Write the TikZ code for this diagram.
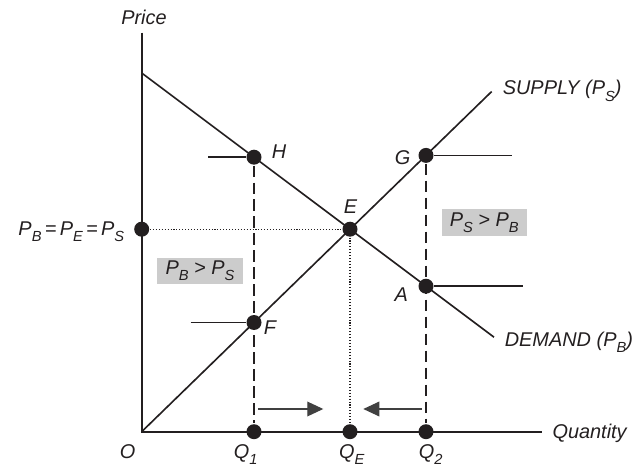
\documentclass[tikz,border=0pt]{standalone}
\usepackage{fontspec}
\setmainfont{Liberation Sans}
\usetikzlibrary{arrows.meta, positioning}
\definecolor{cink}{HTML}{231F20}
\definecolor{cshade}{HTML}{CCCCCC}
\definecolor{carrow}{HTML}{404040}
\newcommand{\lowr}[1]{\raisebox{-0.32em}{\fontsize{12.5}{14}\selectfont #1}}
\tikzset{
  every picture/.style={line width=1.4pt},
  curve/.style={draw=cink, line width=1.4pt},
  dot/.style={circle, fill=cink, inner sep=0pt, minimum size=0.45cm},
  lbl/.style={font=\fontsize{17}{20}\selectfont\itshape, text=cink, inner sep=0pt},
  guide/.style={draw=cink, line width=1.1pt, dash pattern=on 10pt off 4.5pt},
  dots/.style={draw=cink, line width=0.9pt, dash pattern=on 0.9pt off 1.6pt},
  shade/.style={lbl, fill=cshade, minimum width=2.55cm, minimum height=0.78cm},
  push/.style={-{Triangle[length=0.48cm, width=0.44cm]}, draw=carrow, line width=1.1pt},
}

\begin{document}
\begin{tikzpicture}[x=0.03cm, y=0.03cm]
  \useasboundingbox (-141.7,-36.3) rectangle (499.3,431.7);

  % axes and the two curves
  \coordinate (o)    at (0,0);
  \coordinate (ytop) at (0,399);
  \coordinate (xend) at (400,0);
  \coordinate (dtop) at (0,358.7);
  \coordinate (dend) at (352.3,94.5);
  \coordinate (send) at (350,340.2);

  % stubs and arrow ends
  \coordinate (hl) at (66.6,274.5);
  \coordinate (fl) at (49,109.2);
  \coordinate (gr) at (370,276.3);
  \coordinate (ar) at (381,145.5);
  \coordinate (r0) at (116.6,22.7);
  \coordinate (r1) at (181.6,22.7);
  \coordinate (l0) at (280,22.7);
  \coordinate (l1) at (221.6,22.7);

  % points
  \node[dot] (pe) at (0,202.5)     {};
  \node[dot] (e)  at (208.3,202.5) {};
  \node[dot] (h)  at (112.3,274.5) {};
  \node[dot] (f)  at (112.3,109.2) {};
  \node[dot] (q1) at (112.3,0)     {};
  \node[dot] (g)  at (284.3,276.3) {};
  \node[dot] (a)  at (284.3,145.5) {};
  \node[dot] (q2) at (284.3,0)     {};
  \node[dot] (qe) at (208.3,0)     {};

  \draw[guide] (h) -- (q1);
  \draw[guide] (g) -- (q2);
  \draw[dots] (pe) -- (e);
  \draw[dots] (e) -- (qe);

  \draw[curve] (ytop) -- (o) -- (xend);
  \draw[curve] (dtop) -- (dend);
  \draw[curve] (o) -- (send);
  \draw[curve] (hl) -- (h);
  \draw[curve] (fl) -- (f);
  \draw[curve] (g) -- (gr);
  \draw[curve] (a) -- (ar);

  \draw[push] (r0) -- (r1);
  \draw[push] (l0) -- (l1);

  % labels
  \node[lbl] (price) at (2.3,414.2) {Price};
  \node[lbl, anchor=base west] (sup) at (360.3,336.7) {SUPPLY (P\lowr{S})};
  \node[lbl, anchor=base west] (dem) at (362.3,85.7) {DEMAND (P\lowr{B})};
  \node[lbl, anchor=base west] (qty) at (410,-7) {Quantity};
  \node[lbl] (ol) at (-14.2,-20) {O};
  \node[lbl, anchor=base] (q1l) at (104,-26.5) {Q\lowr{1}};
  \node[lbl, anchor=base] (qel) at (210,-26.5) {Q\lowr{E}};
  \node[lbl, anchor=base] (q2l) at (289,-26.5) {Q\lowr{2}};
  \node[lbl, anchor=base east] (pel) at (-16.7,196.7) {P\lowr{B}\,=\,P\lowr{E}\,=\,P\lowr{S}};
  \node[lbl] (hlab) at (137.3,280.2) {H};
  \node[lbl] (glab) at (260.8,274.4) {G};
  \node[lbl] (elab) at (208.8,225)   {E};
  \node[lbl] (flab) at (128.3,104.2) {F};
  \node[lbl] (alab) at (259.6,136.7) {A};

  \node[shade] (sgb) at (342.5,209.2) {P\lowr{S} > P\lowr{B}};
  \node[shade] (bgs) at (58.3,161.2)  {P\lowr{B} > P\lowr{S}};
\end{tikzpicture}
\end{document}
